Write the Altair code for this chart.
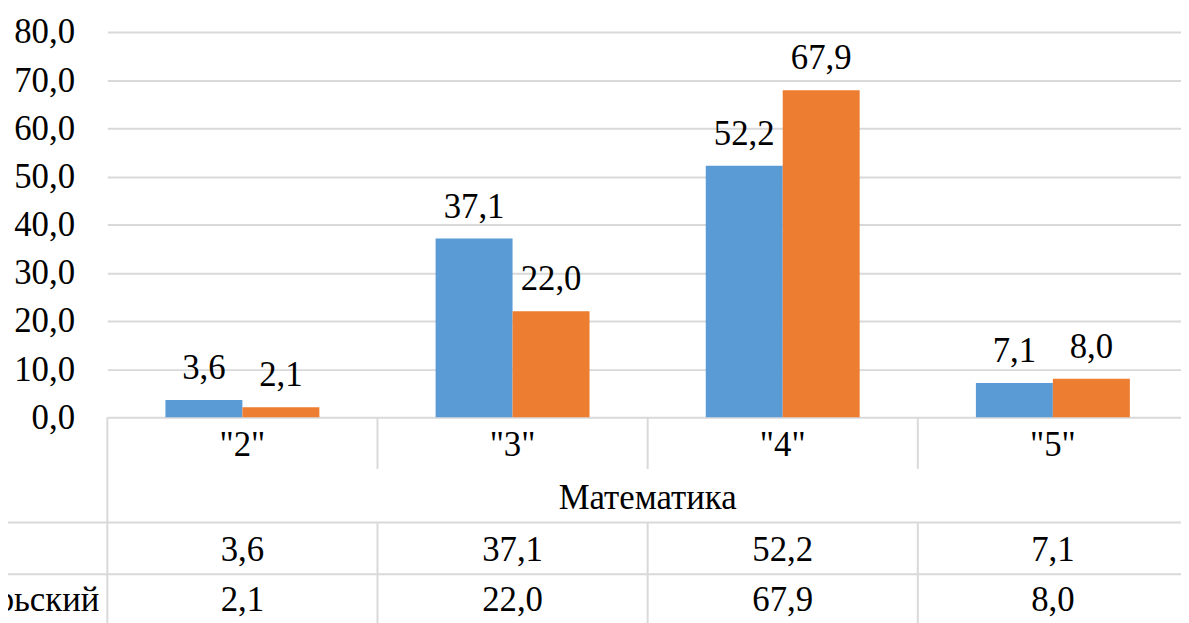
import altair as alt
import pandas as pd

# ---- data ----
categories = ['"2"', '"3"', '"4"', '"5"']
series_names = ["Ряд 1", "…рьский"]
blue_values = [3.6, 37.1, 52.2, 7.1]
orange_values = [2.1, 22.0, 67.9, 8.0]
y_ticks = [0, 10, 20, 30, 40, 50, 60, 70, 80]
group_title = "Математика"
row2_label = "рьский"
colors = ["#5B9BD5", "#ED7D31"]

FONT = "Liberation Serif, Tinos, Times New Roman, Times, Noto Serif, DejaVu Serif, FreeSerif, serif"
FS = 35
W = 1081
H = 388


def fmt(v):
    return f"{v:.1f}".replace(".", ",")


rows = []
for s, vals in zip(series_names, [blue_values, orange_values]):
    for c, v in zip(categories, vals):
        rows.append({"cat": c, "series": s, "value": v, "label": fmt(v)})
df = pd.DataFrame(rows)
cat_df = pd.DataFrame({"cat": categories})

x_scale = alt.Scale(domain=categories, range=[0, 1088], paddingInner=0, paddingOuter=0)
xo_scale = alt.Scale(domain=series_names, paddingInner=0, paddingOuter=0.755)
X = alt.X("cat:N", scale=x_scale, axis=None, sort=categories)
XB = alt.X("cat:N", scale=x_scale, axis=None, sort=categories, bandPosition=0)
XO = alt.XOffset("series:N", scale=xo_scale, sort=series_names)

y_axis = alt.Axis(
    values=y_ticks,
    labelExpr="replace(format(datum.value, '.1f'), '.', ',')",
    labelFont=FONT,
    labelFontSize=FS,
    labelColor="black",
    ticks=False,
    tickSize=0,
    domain=False,
    gridColor="#d9d9d9",
    gridWidth=2,
    labelPadding=33,
    title=None,
)
Y = alt.Y("value:Q", scale=alt.Scale(domain=[0, 80], nice=False, zero=True), axis=y_axis)

base = alt.Chart(df)

bars = base.mark_bar().encode(
    x=X,
    xOffset=XO,
    y=Y,
    color=alt.Color("series:N", scale=alt.Scale(domain=series_names, range=colors), legend=None),
)

bar_labels = base.mark_text(font=FONT, fontSize=FS, baseline="alphabetic", dy=-21, color="black").encode(
    x=X,
    xOffset=XO,
    y=alt.Y("value:Q", scale=alt.Scale(domain=[0, 80], nice=False)),
    text="label:N",
)

LINE = "#d9d9d9"
LW = 2

cat_text = alt.Chart(cat_df).mark_text(font=FONT, fontSize=FS, baseline="alphabetic", color="black").encode(
    x=X, y=alt.value(427), text="cat:N"
)

vlines_top = alt.Chart(cat_df).transform_filter(
    alt.datum.cat != categories[0]
).mark_rule(color=LINE, strokeWidth=LW).encode(x=XB, y=alt.value(388), y2=alt.value(440))

vline_left = alt.Chart(cat_df).transform_filter(
    alt.datum.cat == categories[0]
).mark_rule(color=LINE, strokeWidth=LW).encode(x=XB, y=alt.value(388), y2=alt.value(700))

vlines_rows = alt.Chart(cat_df).transform_filter(
    alt.datum.cat != categories[0]
).mark_rule(color=LINE, strokeWidth=LW).encode(x=XB, y=alt.value(494), y2=alt.value(700))

hline1 = alt.Chart(cat_df).transform_filter(
    alt.datum.cat == categories[0]
).mark_rule(color=LINE, strokeWidth=LW).encode(x=alt.value(-100), x2=alt.value(W), y=alt.value(494))

hline2 = alt.Chart(cat_df).transform_filter(
    alt.datum.cat == categories[0]
).mark_rule(color=LINE, strokeWidth=LW).encode(x=alt.value(-100), x2=alt.value(W), y=alt.value(546))

group_text = alt.Chart(cat_df).transform_filter(
    alt.datum.cat == categories[0]
).mark_text(font=FONT, fontSize=FS, baseline="alphabetic", color="black", text=group_title).encode(
    x=alt.value(544), y=alt.value(480)
)

row1_text = base.transform_filter(alt.datum.series == series_names[0]).mark_text(
    font=FONT, fontSize=FS, baseline="alphabetic", color="black"
).encode(x=X, y=alt.value(533), text="label:N")

row2_text = base.transform_filter(alt.datum.series == series_names[1]).mark_text(
    font=FONT, fontSize=FS, baseline="alphabetic", color="black"
).encode(x=X, y=alt.value(583), text="label:N")

row2_name = alt.Chart(cat_df).transform_filter(
    alt.datum.cat == categories[0]
).mark_text(font=FONT, fontSize=FS, baseline="alphabetic", align="right", color="black", text=row2_label).encode(
    x=alt.value(-8), y=alt.value(583)
)

chart = alt.layer(
    bars, bar_labels, cat_text, vlines_top, vline_left, vlines_rows, hline1, hline2,
    group_text, row1_text, row2_text, row2_name,
).properties(
    width=W,
    height=H,
    autosize=alt.AutoSizeParams(type="none"),
    padding={"left": 100, "top": 22, "right": 0, "bottom": 205},
).configure_view(stroke=None)

chart.save("out.html", embed_options={"renderer": "svg", "actions": False})
